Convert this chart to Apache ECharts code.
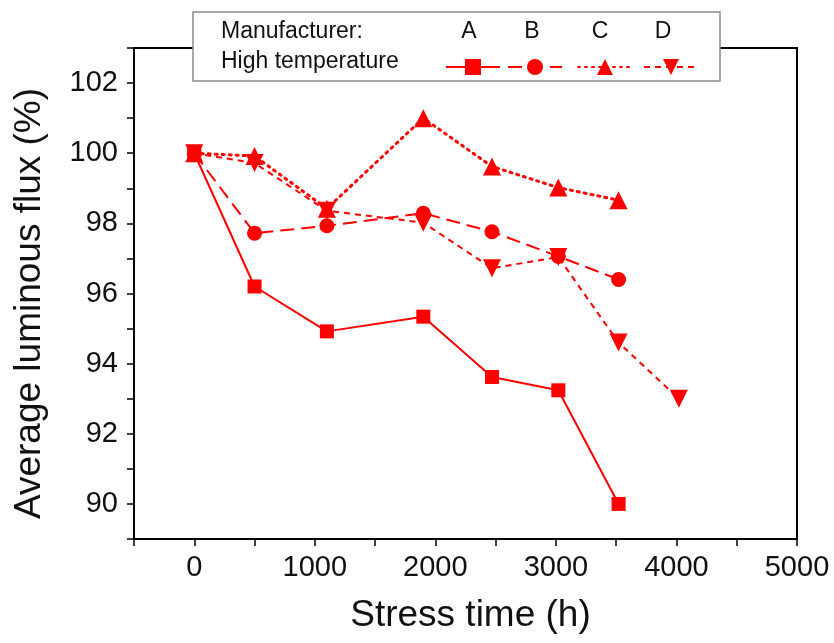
<!DOCTYPE html>
<html>
<head>
<meta charset="utf-8">
<title>Average luminous flux vs stress time</title>
<script src="https://cdn.jsdelivr.net/npm/echarts@6/dist/echarts.min.js"></script>
<style>
  html, body { margin: 0; padding: 0; background: #fff; }
  #chart { width: 834px; height: 643px; }
</style>
</head>
<body>
<div id="chart"></div>
<script>
// stress time (h) of each measurement
const timeABC = [0, 500, 1100, 1900, 2470, 3020, 3520];
const timeD = [0, 500, 1100, 1900, 2470, 3020, 3520, 4020];
// average luminous flux (%) per manufacturer
const fluxA = [100, 96.2, 94.92, 95.34, 93.62, 93.24, 90.0];
const fluxB = [100, 97.72, 97.93, 98.29, 97.76, 97.06, 96.4];
const fluxC = [100, 99.92, 98.42, 101.0, 99.62, 99.02, 98.66];
const fluxD = [100, 99.72, 98.36, 98.02, 96.72, 97.04, 94.6, 93.0];
const names = ['A', 'B', 'C', 'D'];

const red = '#ff0000';
const font = 'Liberation Sans, Arial, sans-serif';

function pairs(xs, ys) {
  return xs.map((x, i) => [x, ys[i]]);
}

// one series per manufacturer
function line(name, data, symbol, size, dash, extra) {
  return Object.assign({
    name: name,
    type: 'line',
    data: data,
    symbol: symbol,
    symbolSize: size,
    itemStyle: {color: red},
    lineStyle: {color: red, width: 2, type: dash},
    animation: false
  }, extra || {});
}

// legend rows: one small legend per series so they line up under the letters
const legendCenters = [467, 529, 599, 665];
const legends = names.map((n, i) => ({
  data: [n],
  left: legendCenters[i] - 27,
  top: 52,
  itemWidth: 54,
  itemHeight: 20,
  formatter: () => '',
  selectedMode: false,
  z: 60
}));

const chart = echarts.init(document.getElementById('chart'));
chart.setOption({
  backgroundColor: '#fff',
  textStyle: {fontFamily: font},
  grid: {
    left: 134,
    right: 37,
    top: 48,
    bottom: 104,
    show: true,
    borderColor: '#000',
    borderWidth: 2,
    backgroundColor: 'transparent'
  },
  legend: legends,
  xAxis: {
    type: 'value',
    min: -500,
    max: 5000,
    interval: 500,
    name: 'Stress time (h)',
    nameLocation: 'middle',
    nameGap: 58,
    nameTextStyle: {fontSize: 37, color: '#111', fontFamily: font, padding: [0, 0, 0, 10]},
    axisLine: {onZero: false, lineStyle: {color: '#000', width: 2}},
    axisTick: {length: 7, lineStyle: {color: '#000', width: 1.5}},
    axisLabel: {
      fontSize: 29,
      color: '#111',
      margin: 14,
      formatter: v => (v >= 0 && v % 1000 === 0) ? String(v) : ''
    },
    splitLine: {show: false}
  },
  yAxis: {
    type: 'value',
    min: 89,
    max: 103,
    interval: 1,
    name: 'Average luminous flux (%)',
    nameLocation: 'middle',
    nameGap: 86,
    nameTextStyle: {fontSize: 37, color: '#111', fontFamily: font, padding: [0, 20, 0, 0]},
    axisLine: {onZero: false, lineStyle: {color: '#000', width: 2}},
    axisTick: {length: 7, lineStyle: {color: '#000', width: 1.5}},
    axisLabel: {
      fontSize: 29,
      color: '#111',
      margin: 16,
      formatter: v => v % 2 === 0 ? String(v) : ''
    },
    splitLine: {show: false}
  },
  graphic: [
    {
      type: 'rect',
      z: 50,
      shape: {x: 193, y: 12, width: 527, height: 69},
      style: {fill: '#fff', stroke: '#8a8a8a', lineWidth: 1.5}
    },
    {
      type: 'text', z: 51, left: 221, top: 20,
      style: {text: 'Manufacturer:', font: '23px ' + font, fill: '#111'}
    },
    {
      type: 'text', z: 51, left: 221, top: 50,
      style: {text: 'High temperature', font: '23px ' + font, fill: '#111'}
    },
    ...names.map((n, i) => ({
      type: 'text', z: 51,
      x: [469, 532, 600, 663][i], y: 32,
      style: {text: n, font: '23px ' + font, fill: '#111', align: 'center', verticalAlign: 'middle'}
    }))
  ],
  series: [
    line('A', pairs(timeABC, fluxA), 'rect', 14, 'solid'),
    line('B', pairs(timeABC, fluxB), 'circle', 15, [14, 7]),
    line('C', pairs(timeABC, fluxC), 'triangle', 18, [2, 5], {lineStyle: {color: red, width: 3, type: [2, 5], cap: 'round'}}),
    line('D', pairs(timeD, fluxD), 'triangle', 18, [6, 5], {symbolRotate: 180})
  ]
});
</script>
</body>
</html>
